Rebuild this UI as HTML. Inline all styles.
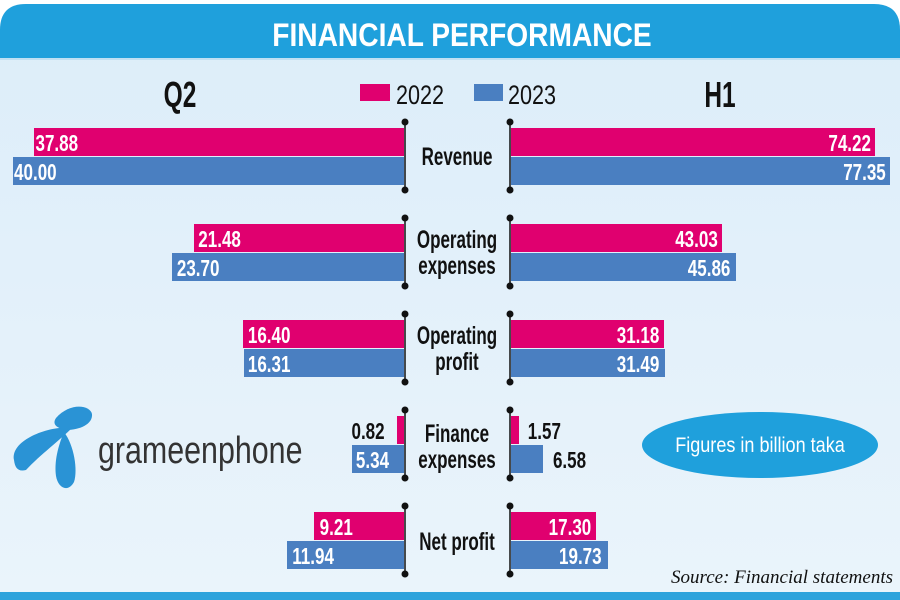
<!DOCTYPE html>
<html><head><meta charset="utf-8"><style>
html,body{margin:0;padding:0;background:#fff}
svg{display:block}
</style></head><body>
<svg width="900" height="600" viewBox="0 0 900 600" xmlns="http://www.w3.org/2000/svg">
<defs>
<linearGradient id="bg" x1="0" y1="0" x2="0" y2="1">
<stop offset="0" stop-color="#dcedf9"/><stop offset="1" stop-color="#eaf4fb"/>
</linearGradient>
</defs>
<rect x="0" y="0" width="900" height="600" fill="#fff"/>
<path d="M0,600 L0,30 Q0,4 26,4 L874,4 Q900,4 900,30 L900,600 Z" fill="url(#bg)"/>
<path d="M0,58 L0,30 Q0,4 26,4 L874,4 Q900,4 900,30 L900,58 Z" fill="#1fa0dc"/>
<rect x="0" y="58" width="900" height="2" fill="#bfe0f3"/>
<rect x="0" y="592" width="900" height="8" fill="#2ea3dc"/>
<g font-family="Liberation Sans, sans-serif" font-weight="bold">
<text x="462" y="46" font-size="32" fill="#fff" text-anchor="middle" transform="translate(462 0) scale(0.88 1) translate(-462 0)">FINANCIAL PERFORMANCE</text>
<text x="180" y="107" font-size="36" fill="#111" text-anchor="middle" transform="translate(180 0) scale(0.68 1) translate(-180 0)">Q2</text>
<text x="720" y="107" font-size="36" fill="#111" text-anchor="middle" transform="translate(720 0) scale(0.68 1) translate(-720 0)">H1</text>
</g>
<rect x="360" y="84" width="30" height="17" fill="#e0006f"/>
<rect x="474" y="84" width="29" height="17" fill="#4a7fc1"/>
<g font-family="Liberation Sans, sans-serif" font-size="27" fill="#111">
<text x="396" y="104" transform="translate(396 0) scale(0.8 1) translate(-396 0)">2022</text>
<text x="508" y="104" transform="translate(508 0) scale(0.8 1) translate(-508 0)">2023</text>
</g>

<g stroke="#111" stroke-width="1.5" fill="#111">
<line x1="405" y1="122" x2="405" y2="190"/><line x1="510" y1="122" x2="510" y2="190"/>
<line x1="405" y1="218" x2="405" y2="286"/><line x1="510" y1="218" x2="510" y2="286"/>
<line x1="405" y1="314" x2="405" y2="382"/><line x1="510" y1="314" x2="510" y2="382"/>
<line x1="405" y1="410" x2="405" y2="478"/><line x1="510" y1="410" x2="510" y2="478"/>
<line x1="405" y1="506" x2="405" y2="574"/><line x1="510" y1="506" x2="510" y2="574"/>
<g stroke="none">
<circle cx="405" cy="122" r="3.5"/><circle cx="510" cy="122" r="3.5"/><circle cx="405" cy="190" r="3.5"/><circle cx="510" cy="190" r="3.5"/>
<circle cx="405" cy="218" r="3.5"/><circle cx="510" cy="218" r="3.5"/><circle cx="405" cy="286" r="3.5"/><circle cx="510" cy="286" r="3.5"/>
<circle cx="405" cy="314" r="3.5"/><circle cx="510" cy="314" r="3.5"/><circle cx="405" cy="382" r="3.5"/><circle cx="510" cy="382" r="3.5"/>
<circle cx="405" cy="410" r="3.5"/><circle cx="510" cy="410" r="3.5"/><circle cx="405" cy="478" r="3.5"/><circle cx="510" cy="478" r="3.5"/>
<circle cx="405" cy="506" r="3.5"/><circle cx="510" cy="506" r="3.5"/><circle cx="405" cy="574" r="3.5"/><circle cx="510" cy="574" r="3.5"/>
</g>
</g>

<g>
<rect x="34" y="128" width="370" height="28" fill="#e0006f"/>
<rect x="13" y="157" width="391" height="28" fill="#4a7fc1"/>
<rect x="511" y="128" width="364" height="28" fill="#e0006f"/>
<rect x="511" y="157" width="379" height="28" fill="#4a7fc1"/>

<rect x="194" y="224" width="210" height="28" fill="#e0006f"/>
<rect x="172" y="253" width="232" height="28" fill="#4a7fc1"/>
<rect x="511" y="224" width="211" height="28" fill="#e0006f"/>
<rect x="511" y="253" width="225" height="28" fill="#4a7fc1"/>

<rect x="243" y="320" width="161" height="28" fill="#e0006f"/>
<rect x="244" y="349" width="160" height="28" fill="#4a7fc1"/>
<rect x="511" y="320" width="153" height="28" fill="#e0006f"/>
<rect x="511" y="349" width="154" height="28" fill="#4a7fc1"/>

<rect x="397" y="416" width="7" height="28" fill="#e0006f"/>
<rect x="352" y="445" width="52" height="28" fill="#4a7fc1"/>
<rect x="511" y="416" width="8" height="28" fill="#e0006f"/>
<rect x="511" y="445" width="32" height="28" fill="#4a7fc1"/>

<rect x="314" y="512" width="90" height="28" fill="#e0006f"/>
<rect x="287" y="541" width="117" height="28" fill="#4a7fc1"/>
<rect x="511" y="512" width="85" height="28" fill="#e0006f"/>
<rect x="511" y="541" width="97" height="28" fill="#4a7fc1"/>
</g>

<g font-family="Liberation Sans, sans-serif" font-weight="bold" font-size="23" fill="#fff">
<g transform="scale(0.74 1)">
<text x="48" y="151">37.88</text>
<text x="19" y="180">40.00</text>
<text x="268" y="247">21.48</text>
<text x="239" y="276">23.70</text>
<text x="335" y="343">16.40</text>
<text x="335" y="372">16.31</text>
<text x="432" y="535">9.21</text>
<text x="395" y="564">11.94</text>
<text x="481" y="468">5.34</text>
<text x="475" y="439" fill="#111">0.82</text>
</g>
<g transform="scale(0.74 1)" text-anchor="end">
<text x="1177" y="151">74.22</text>
<text x="1197" y="180">77.35</text>
<text x="970" y="247">43.03</text>
<text x="987" y="276">45.86</text>
<text x="891" y="343">31.18</text>
<text x="891" y="372">31.49</text>
<text x="799" y="535">17.30</text>
<text x="813" y="564">19.73</text>
<text x="758" y="439" fill="#111">1.57</text>
<text x="792" y="468" fill="#111">6.58</text>
</g>
</g>

<g font-family="Liberation Sans, sans-serif" font-size="25" font-weight="bold" fill="#111" text-anchor="middle">
<g transform="translate(457 0) scale(0.68 1)">
<text x="0" y="165">Revenue</text>
<text x="0" y="248">Operating</text>
<text x="0" y="274">expenses</text>
<text x="0" y="344">Operating</text>
<text x="0" y="370">profit</text>
<text x="0" y="442">Finance</text>
<text x="0" y="468">expenses</text>
<text x="0" y="550">Net profit</text>
</g>
</g>

<g fill="#2a93d5">
<path d="M14,460 C10,440 50,425 72,428 C60,440 40,455 26,470 C18,472 15,468 14,460 Z"/>
<path d="M56,418 C70,402 90,405 92,414 C93,424 80,430 66,430 C56,428 52,424 56,418 Z"/>
<path d="M64,432 C74,445 78,470 74,482 C68,493 58,488 56,476 C54,462 58,446 64,432 Z"/>
</g>
<text x="98" y="463" font-family="Liberation Sans, sans-serif" font-size="38" fill="#333" transform="translate(98 0) scale(0.8 1) translate(-98 0)">grameenphone</text>

<ellipse cx="760" cy="445" rx="118" ry="33" fill="#1fa0dc"/>
<text x="760" y="452" font-family="Liberation Sans, sans-serif" font-size="21" fill="#fff" text-anchor="middle" transform="translate(760 0) scale(0.86 1) translate(-760 0)">Figures in billion taka</text>

<text x="893" y="583" font-family="Liberation Serif, serif" font-style="italic" font-size="19" fill="#111" text-anchor="end">Source: Financial statements</text>
</svg>
</body></html>
